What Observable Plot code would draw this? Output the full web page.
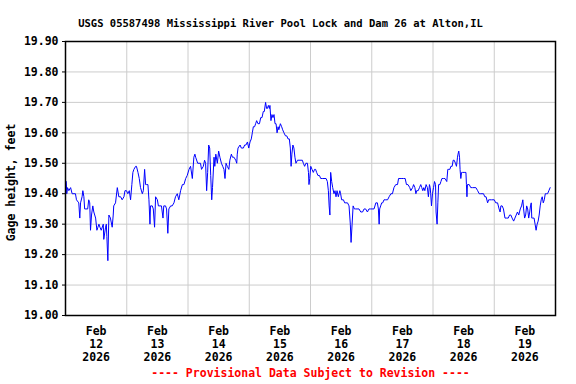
<!DOCTYPE html>
<html>
<head>
<meta charset="utf-8">
<script src="https://cdn.jsdelivr.net/npm/d3@7"></script>
<script src="https://cdn.jsdelivr.net/npm/@observablehq/plot@0.6"></script>
<style>
  html, body { margin: 0; padding: 0; background: white; }
</style>
</head>
<body>
<div id="chart"></div>
<script>
const title = "USGS 05587498 Mississippi River Pool Lock and Dam 26 at Alton,IL";
const yLabel = "Gage height, feet";
const caption = "---- Provisional Data Subject to Revision ----";
const startDate = "2026-02-12";
const numDays = 8;
const yTicks = [19.0, 19.1, 19.2, 19.3, 19.4, 19.5, 19.6, 19.7, 19.8, 19.9];

// hours since Feb 12 2026 00:00
const hours = [
  0.3,0.5,0.8,1.3,2.0,2.6,3.9,4.3,5.2,5.6,5.9,6.5,6.8,7.2,7.5,8.0,8.7,9.1,9.5,9.8,
  10.2,10.7,11.1,11.8,12.3,12.7,13.1,13.5,14.0,14.8,15.0,15.7,16.0,16.2,16.6,17.0,17.6,18.3,18.7,18.9,
  19.6,20.3,20.9,21.6,22.2,22.9,23.3,23.9,24.4,25.0,25.5,26.0,26.4,26.8,27.5,27.8,28.4,28.9,29.4,30.1,
  30.5,31.0,31.4,31.8,32.3,32.7,33.1,33.3,34.0,34.4,34.9,35.3,36.0,36.4,37.0,37.6,38.2,38.5,39.2,39.6,
  40.1,40.5,41.2,41.8,42.5,43.1,43.8,44.4,45.1,45.8,46.4,47.1,47.7,48.4,49.0,49.7,50.3,50.7,51.0,51.8,
  52.9,53.3,54.0,54.5,54.9,55.3,55.7,56.1,56.5,56.9,57.3,57.6,58.2,58.5,58.9,59.5,60.0,60.5,61.1,61.6,
  62.1,62.5,62.9,63.4,64.0,64.4,65.0,65.4,66.0,66.7,67.1,67.3,67.6,68.4,68.9,69.7,70.2,70.7,71.3,71.8,
  72.3,72.8,73.2,73.6,74.1,74.5,74.9,75.4,76.0,76.5,77.0,77.5,77.9,78.4,78.8,79.1,79.5,79.9,80.1,80.5,
  80.9,81.3,81.7,82.1,82.5,82.9,83.3,83.6,84.2,84.7,85.1,85.6,86.2,86.7,87.2,87.7,88.1,88.4,88.7,89.1,
  89.5,89.9,90.3,90.9,91.5,92.8,93.2,93.7,94.2,94.8,95.2,95.4,95.7,96.1,96.6,97.1,97.6,98.0,98.4,98.9,
  99.5,100.0,100.8,102.1,102.6,103.0,103.3,103.6,103.9,104.3,104.7,105.2,105.6,106.0,106.4,106.9,107.5,107.8,108.2,108.9,
  109.4,109.9,110.5,111.1,111.6,111.9,112.3,112.7,113.2,113.7,115.0,115.7,116.4,117.0,117.6,118.3,118.9,119.6,120.9,121.6,
  122.2,122.6,122.9,123.1,123.5,123.9,124.3,124.8,125.5,126.2,126.8,127.5,128.1,128.7,129.4,130.1,130.5,131.1,131.8,132.4,
  133.1,133.6,134.2,134.9,135.3,136.0,136.4,136.9,137.3,137.6,138.2,138.7,139.2,139.6,140.0,140.4,140.8,141.3,141.8,142.2,
  142.6,142.9,143.1,143.4,143.8,144.2,144.6,145.0,145.2,145.6,145.9,146.2,146.7,147.1,147.5,148.1,148.7,149.4,149.8,150.2,
  150.6,151.0,151.5,151.9,152.3,152.8,153.2,153.6,153.8,154.1,154.4,154.6,154.9,155.2,155.6,156.2,156.9,157.1,157.3,157.5,
  158.2,158.8,159.5,160.8,161.5,162.1,162.7,163.8,164.3,164.8,165.4,165.8,166.3,166.9,168.0,168.6,169.3,169.9,170.3,170.6,
  171.1,171.6,172.2,172.9,173.5,174.0,174.5,175.0,175.6,176.1,176.6,177.1,177.6,178.2,178.7,179.2,179.5,179.9,180.3,180.7,
  181.1,181.5,181.9,182.2,182.5,182.7,183.1,183.6,184.0,184.4,184.8,185.2,185.6,186.0,186.4,186.8,187.2,187.6,188.0,188.4,
  188.9,189.4,189.9
];

// gage height, feet
const stage = [
  19.44,19.40,19.42,19.41,19.42,19.40,19.40,19.38,19.37,19.32,19.37,19.39,19.41,19.39,19.35,19.35,19.35,19.38,19.37,19.28,
  19.33,19.36,19.34,19.32,19.28,19.29,19.30,19.29,19.28,19.30,19.25,19.29,19.30,19.26,19.18,19.33,19.32,19.29,19.33,19.36,
  19.37,19.42,19.39,19.39,19.38,19.39,19.41,19.41,19.40,19.41,19.38,19.43,19.47,19.48,19.49,19.49,19.47,19.45,19.42,19.40,
  19.41,19.48,19.43,19.43,19.43,19.38,19.30,19.36,19.36,19.35,19.29,19.39,19.38,19.36,19.36,19.36,19.32,19.36,19.36,19.35,
  19.27,19.35,19.36,19.36,19.37,19.39,19.40,19.38,19.41,19.43,19.43,19.45,19.46,19.48,19.49,19.45,19.52,19.53,19.52,19.50,
  19.50,19.48,19.49,19.51,19.50,19.41,19.47,19.56,19.55,19.46,19.38,19.42,19.52,19.49,19.53,19.50,19.54,19.52,19.50,19.49,
  19.48,19.45,19.50,19.49,19.48,19.51,19.53,19.52,19.52,19.51,19.50,19.53,19.55,19.56,19.55,19.55,19.56,19.56,19.57,19.55,
  19.57,19.58,19.60,19.62,19.62,19.63,19.64,19.63,19.63,19.65,19.65,19.67,19.67,19.70,19.68,19.68,19.69,19.68,19.69,19.64,
  19.66,19.65,19.66,19.63,19.63,19.60,19.62,19.61,19.63,19.62,19.61,19.60,19.59,19.59,19.58,19.58,19.55,19.49,19.53,19.56,
  19.55,19.52,19.50,19.51,19.51,19.51,19.50,19.49,19.50,19.50,19.47,19.43,19.45,19.49,19.48,19.47,19.48,19.48,19.47,19.46,
  19.46,19.45,19.45,19.45,19.44,19.41,19.36,19.33,19.47,19.44,19.42,19.40,19.41,19.39,19.41,19.39,19.41,19.40,19.38,19.38,
  19.37,19.37,19.37,19.36,19.30,19.24,19.30,19.36,19.35,19.35,19.35,19.34,19.34,19.35,19.35,19.34,19.35,19.35,19.35,19.37,
  19.37,19.35,19.30,19.35,19.36,19.37,19.37,19.38,19.38,19.38,19.39,19.40,19.40,19.42,19.43,19.43,19.45,19.45,19.45,19.45,
  19.45,19.43,19.43,19.42,19.41,19.42,19.43,19.42,19.40,19.41,19.41,19.42,19.43,19.42,19.41,19.42,19.41,19.43,19.42,19.39,
  19.43,19.42,19.40,19.36,19.40,19.42,19.44,19.43,19.34,19.30,19.37,19.43,19.43,19.44,19.45,19.45,19.45,19.44,19.48,19.48,
  19.48,19.49,19.49,19.51,19.51,19.50,19.49,19.52,19.53,19.54,19.52,19.48,19.45,19.47,19.47,19.47,19.47,19.43,19.39,19.43,
  19.43,19.42,19.42,19.42,19.41,19.40,19.40,19.40,19.39,19.39,19.37,19.38,19.38,19.38,19.38,19.37,19.37,19.35,19.34,19.36,
  19.36,19.35,19.32,19.32,19.32,19.33,19.33,19.32,19.31,19.32,19.33,19.34,19.33,19.35,19.36,19.38,19.35,19.32,19.33,19.36,
  19.35,19.32,19.34,19.36,19.37,19.32,19.32,19.32,19.30,19.28,19.30,19.31,19.33,19.36,19.38,19.39,19.37,19.38,19.40,19.40,
  19.40,19.41,19.42
];

const t0 = new Date(startDate + "T00:00:00Z");
const hourMs = 3600 * 1000;
const data = hours.map((h, i) => ({ date: new Date(+t0 + h * hourMs), value: stage[i] }));
const dayBounds = d3.range(1, numDays).map(d => new Date(+t0 + d * 24 * hourMs));
const noons = d3.range(0, numDays).map(d => new Date(+t0 + (d * 24 + 12) * hourMs));
const gridVals = yTicks.slice(1, -1);

const chart = Plot.plot({
  width: 576,
  height: 384,
  marginTop: 41,
  marginBottom: 69,
  marginLeft: 65,
  marginRight: 21,
  style: { fontFamily: "'DejaVu Sans Mono', monospace", fontWeight: "bold", fontSize: "11.5px", background: "white", color: "black" },
  x: { type: "utc", domain: [t0, new Date(+t0 + numDays * 24 * hourMs)] },
  y: { domain: [19.0, 19.9] },
  marks: [
    Plot.gridY(gridVals, { stroke: "#cccccc", strokeOpacity: 1, strokeWidth: 1 }),
    Plot.gridX(dayBounds, { stroke: "#cccccc", strokeOpacity: 1, strokeWidth: 1 }),
    Plot.line(data, { x: "date", y: "value", stroke: "#0000ff", strokeWidth: 1 }),
    Plot.frame({ stroke: "black", strokeWidth: 1.5 }),
    Plot.axisY(yTicks, { tickFormat: d => d.toFixed(2), tickSize: 3, tickPadding: 4, label: null, fontSize: 11.5 }),
    Plot.axisX(noons, { tickSize: 0, tickPadding: 11, label: null, lineHeight: 1.1, fontSize: 11.5,
      tickFormat: d => `Feb\n${d.getUTCDate()}\n${d.getUTCFullYear()}` }),
    Plot.text([yLabel], { frameAnchor: "left", dx: -54, dy: 4, rotate: -90, textAnchor: "middle", fontSize: 11.5, fill: "black" }),
    Plot.text([title], { frameAnchor: "top-left", dx: 215, dy: -22, textAnchor: "middle", fontSize: 10.5, fill: "black" }),
    Plot.text([caption], { frameAnchor: "bottom", dy: 61, fontSize: 11.5, fill: "red" })
  ]
});
document.getElementById("chart").appendChild(chart);
</script>
</body>
</html>
